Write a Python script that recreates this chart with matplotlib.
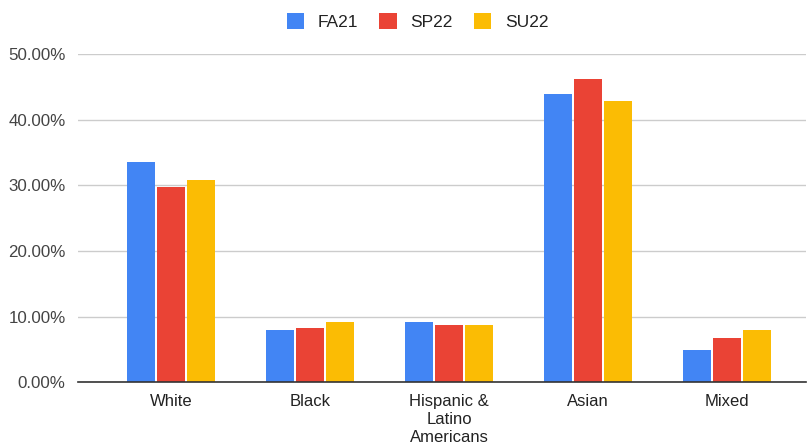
import matplotlib
matplotlib.use("Agg")
import matplotlib.pyplot as plt
import numpy as np
from matplotlib.ticker import FuncFormatter

categories = ["White", "Black", "Hispanic &\nLatino\nAmericans", "Asian", "Mixed"]
series_names = ["FA21", "SP22", "SU22"]
fa21 = [0.335, 0.080, 0.0915, 0.4385, 0.050]
sp22 = [0.297, 0.0823, 0.0874, 0.462, 0.067]
su22 = [0.3085, 0.0915, 0.0874, 0.429, 0.080]
colors = ["#4285F4", "#EA4335", "#FBBC04"]
yticks = [0.0, 0.1, 0.2, 0.3, 0.4, 0.5]

plt.rcParams['font.family'] = ['Liberation Sans', 'DejaVu Sans']

fig = plt.figure(figsize=(8.11, 4.47), dpi=100)
ax = fig.add_axes([78/811, 64.6/447, (806-78)/811, (382.4-54)/447])

x = np.arange(len(categories))
step = 0.216
w = 0.2
for i, (vals, name, c) in enumerate(zip([fa21, sp22, su22], series_names, colors)):
    ax.bar(x + (i - 1) * step, vals, width=w, color=c, label=name, zorder=3)

ax.set_ylim(0, 0.5)
ax.set_xlim(-0.67, 4.57)
ax.set_yticks(yticks)
ax.yaxis.set_major_formatter(FuncFormatter(lambda v, p: f"{v*100:.2f}%"))
ax.set_xticks(x)
ax.set_xticklabels(categories, fontsize=12, color="#222222", linespacing=1.25, va="top")
ax.tick_params(axis='y', labelsize=12.2, colors="#444444", length=0, pad=9)
ax.tick_params(axis='x', length=0, pad=8, colors="#222222")
ax.grid(axis='y', color="#cccccc", linewidth=1, zorder=0)
ax.set_axisbelow(True)
for s in ["top", "right", "left"]:
    ax.spines[s].set_visible(False)
ax.spines["bottom"].set_color("#333333")
ax.spines["bottom"].set_linewidth(1.2)
ax.spines["bottom"].set_zorder(4)

leg = fig.legend(loc="upper center", bbox_to_anchor=(0.515, 1.005), ncol=3, frameon=False,
                 fontsize=12.5, handlelength=1.0, handleheight=1.0, columnspacing=1.2,
                 handletextpad=0.8)
for t in leg.get_texts():
    t.set_color("#222222")

fig.savefig("out.png", dpi=100)
